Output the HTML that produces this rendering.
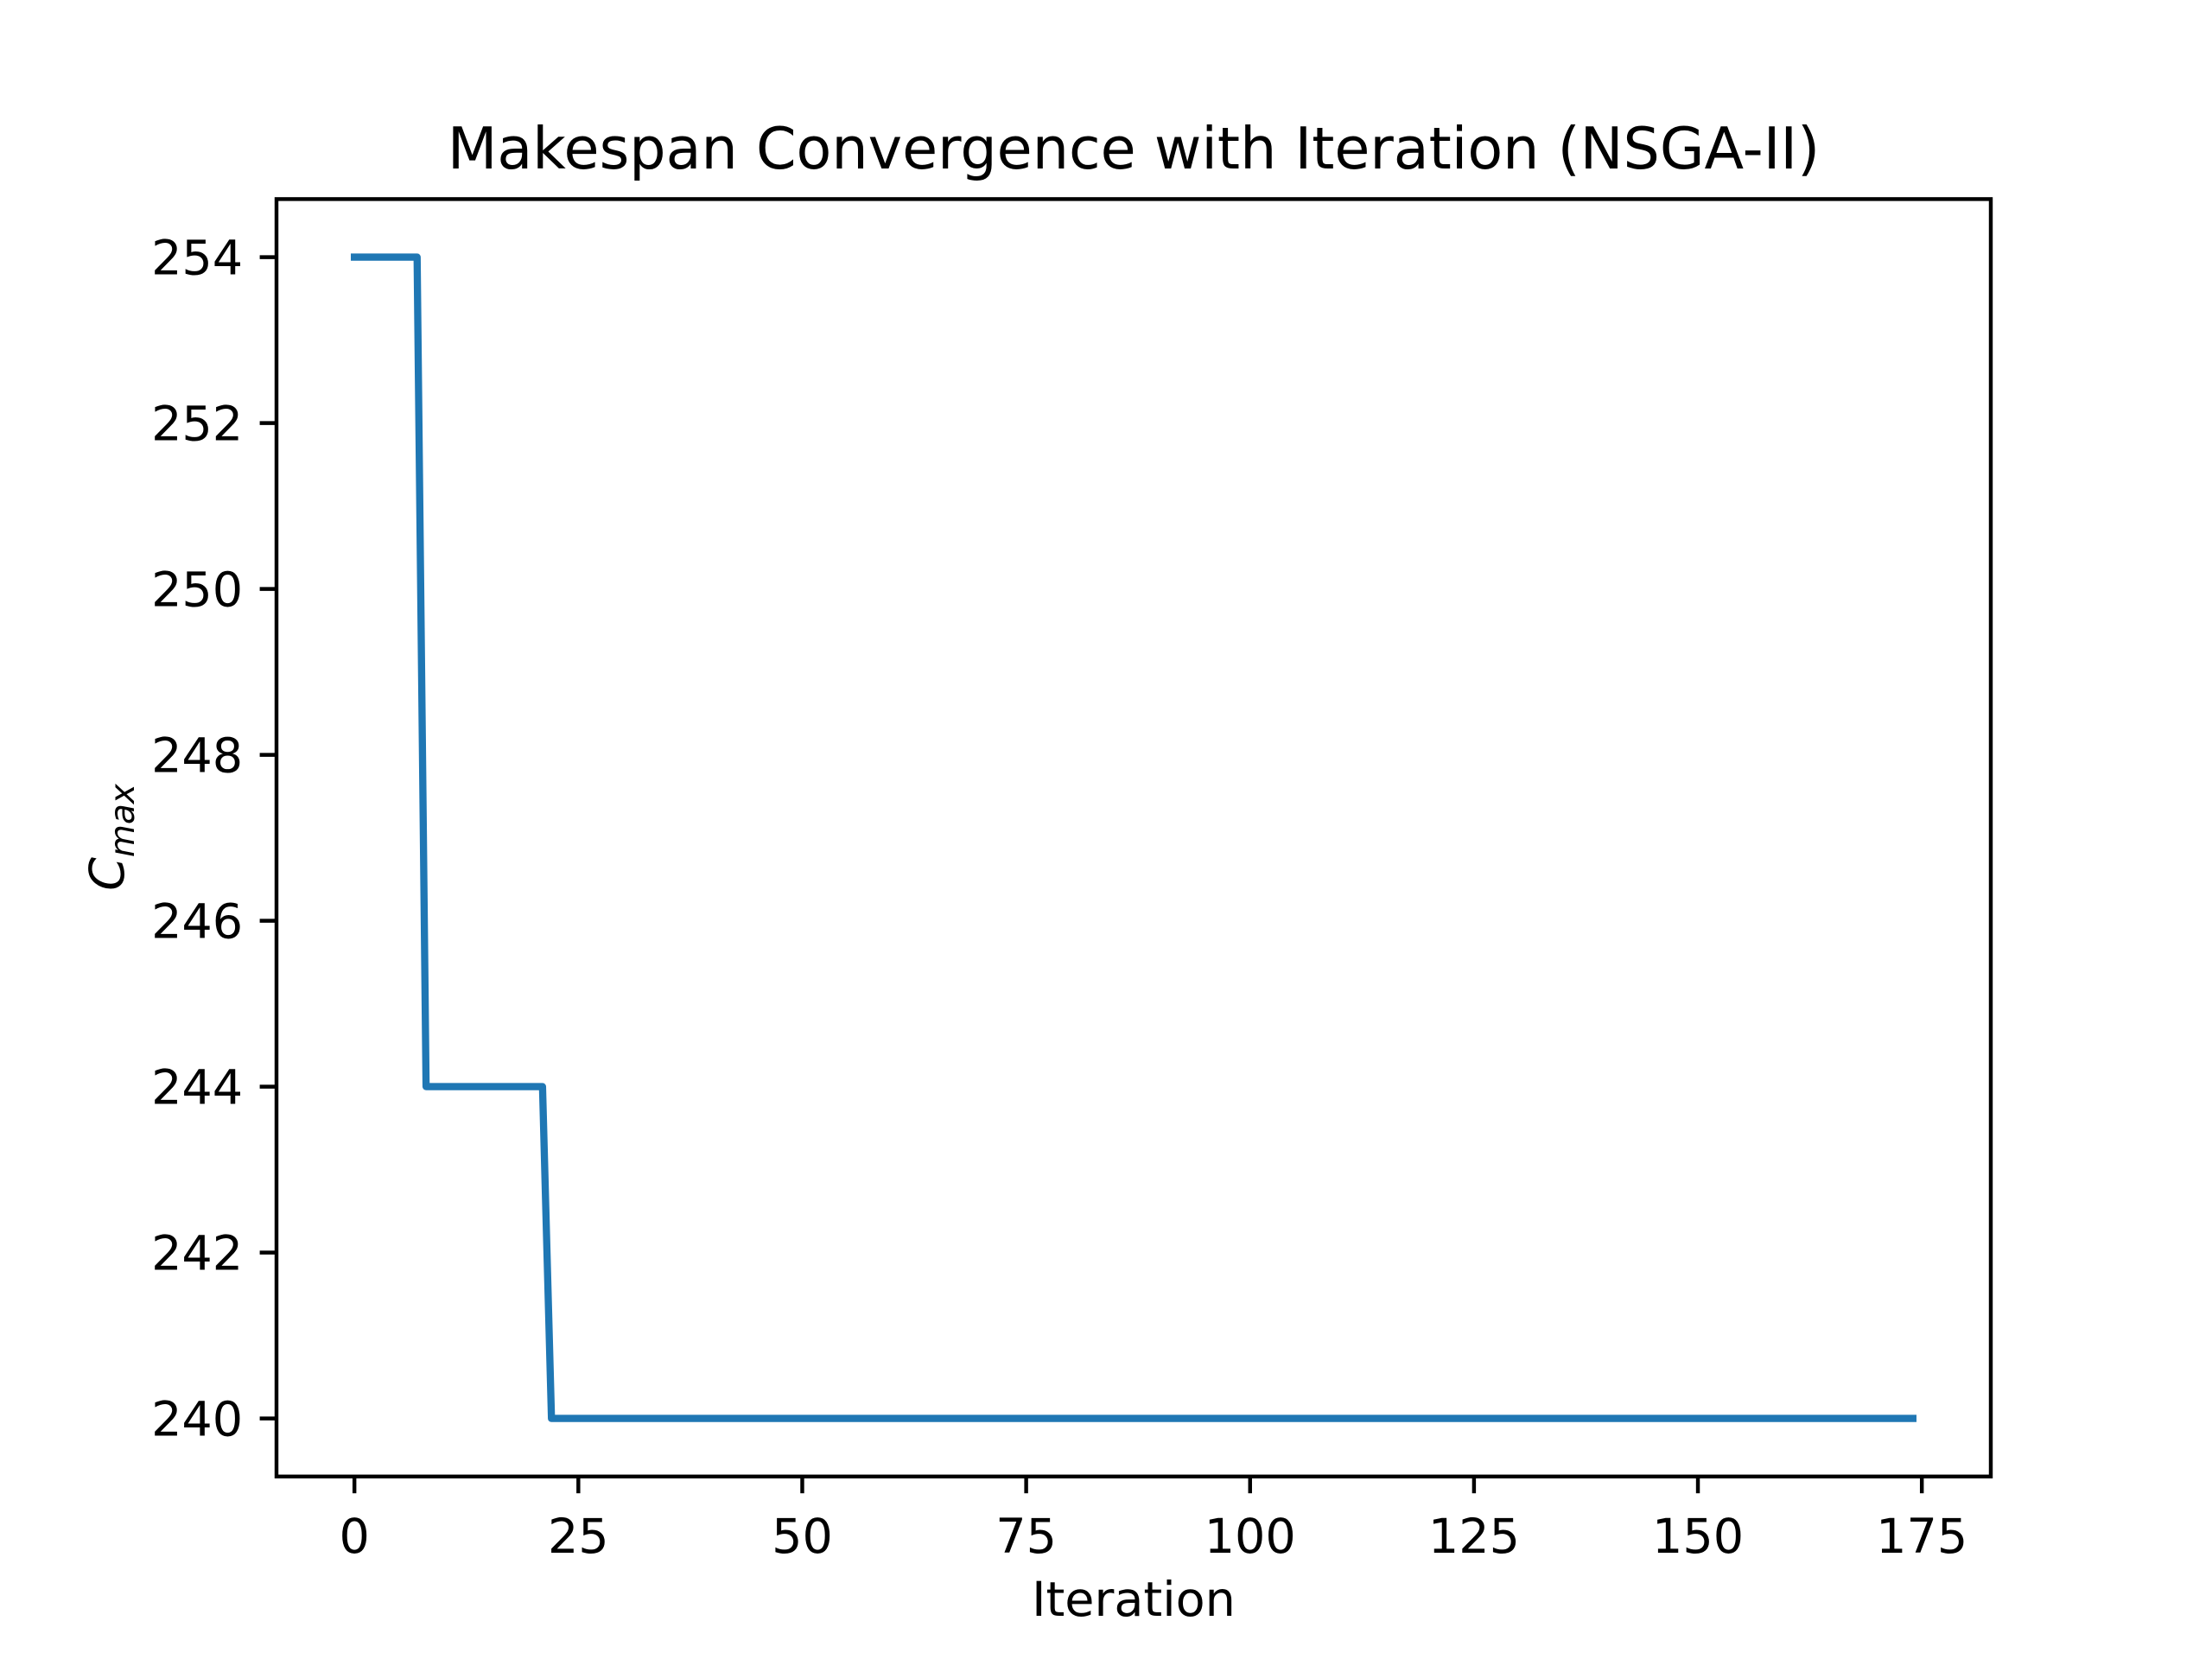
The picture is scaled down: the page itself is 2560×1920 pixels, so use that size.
<!DOCTYPE html>
<html><head><meta charset="utf-8"><style>
html,body{margin:0;padding:0;background:#fff;}
svg{display:block;font-family:"DejaVu Sans","Liberation Sans",sans-serif;}
</style></head><body>
<svg id="chart" width="2560" height="1920" viewBox="0 0 2560 1920" xmlns="http://www.w3.org/2000/svg">
<rect width="2560" height="1920" fill="#fff"/>
<text x="1312" y="195" font-size="66.7" text-anchor="middle" fill="#000">Makespan Convergence with Iteration (NSGA-II)</text>
<g id="xticks"></g>
<g id="yticks"></g>
<polyline id="line" fill="none" stroke="#1f77b4" stroke-width="8.33" stroke-linejoin="round" stroke-linecap="square"/>
<rect x="320" y="230.4" width="1984" height="1478.4" fill="none" stroke="#000" stroke-width="4.44"/>
<text x="1312" y="1870" font-size="55.6" text-anchor="middle" fill="#000">Iteration</text>
<text transform="translate(143,969) rotate(-90)" font-size="55.6" text-anchor="middle" fill="#000" font-style="italic">C<tspan font-size="39" dy="12">max</tspan></text>
</svg>
<script>
const runValues = [254, 244, 240];
const runLengths = [8, 14, 153];
const xTickValues = [0, 25, 50, 75, 100, 125, 150, 175];
const yTickValues = [240, 242, 244, 246, 248, 250, 252, 254];

const L = 320, R = 2304, T = 230.4, B = 1708.8;
const xMin = -8.7, xMax = 182.7, yMin = 239.3, yMax = 254.7;
const sx = v => L + (v - xMin) / (xMax - xMin) * (R - L);
const sy = v => B - (v - yMin) / (yMax - yMin) * (B - T);
const NS = "http://www.w3.org/2000/svg";

const series = [];
runValues.forEach((v, i) => { for (let k = 0; k < runLengths[i]; k++) series.push(v); });
document.getElementById('line').setAttribute('points', series.map((v, i) => sx(i) + ',' + sy(v)).join(' '));

const xg = document.getElementById('xticks');
xTickValues.forEach(v => {
  const l = document.createElementNS(NS, 'line');
  
  
  l.setAttribute('x1', sx(v)); l.setAttribute('x2', sx(v));
  l.setAttribute('y1', B); l.setAttribute('y2', B + 19.4);
  l.setAttribute('stroke', '#000'); l.setAttribute('stroke-width', '4.44');
  xg.appendChild(l);
  const t = document.createElementNS(NS, 'text');
  
  
  t.setAttribute('x', sx(v)); t.setAttribute('y', B + 88);
  t.setAttribute('font-size', '55.6'); t.setAttribute('text-anchor', 'middle');
  t.textContent = v;
  xg.appendChild(t);
});
const yg = document.getElementById('yticks');
yTickValues.forEach(v => {
  const l = document.createElementNS(NS, 'line');
  
  
  l.setAttribute('x1', L - 19.4); l.setAttribute('x2', L);
  l.setAttribute('y1', sy(v)); l.setAttribute('y2', sy(v));
  l.setAttribute('stroke', '#000'); l.setAttribute('stroke-width', '4.44');
  yg.appendChild(l);
  const t = document.createElementNS(NS, 'text');
  
  
  t.setAttribute('x', L - 38.8); t.setAttribute('y', sy(v) + 20);
  t.setAttribute('font-size', '55.6'); t.setAttribute('text-anchor', 'end');
  t.textContent = v;
  yg.appendChild(t);
});
</script>
</body></html>
